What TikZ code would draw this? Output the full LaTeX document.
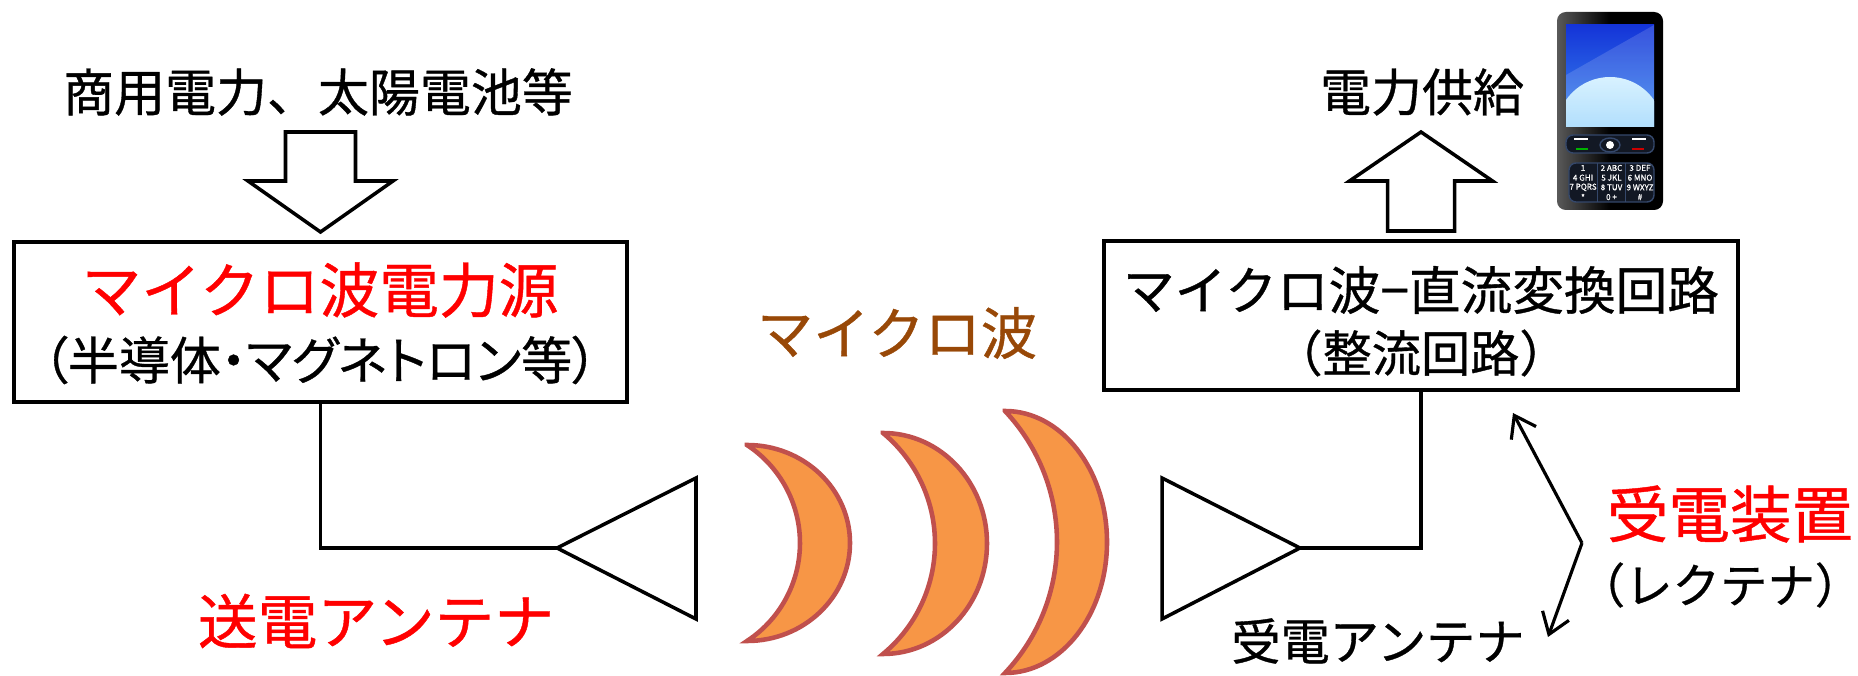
\documentclass[tikz,border=0pt]{standalone}
\usepackage{fontspec}
\setmainfont{Noto Sans CJK JP}[FakeBold=0.7]
\newfontfamily\jpp[RawFeature=+palt,FakeBold=0.7]{Noto Sans CJK JP}
\usetikzlibrary{arrows.meta}

\definecolor{wavefill}{HTML}{F79646}
\definecolor{waveedge}{HTML}{C0504D}
\definecolor{wavetext}{HTML}{984807}
\definecolor{scrtop}{HTML}{1434D8}
\definecolor{scrbot}{HTML}{3C8CF0}
\definecolor{domtop}{HTML}{D2F0FF}
\definecolor{dombot}{HTML}{70C0FA}
\definecolor{padedge}{HTML}{34476A}
\definecolor{padfill}{HTML}{121824}

\begin{document}
\begin{tikzpicture}[
  blk/.style={draw, line width=1pt},
  wire/.style={line width=1pt},
  fatarrow/.style={draw, fill=white, line width=1pt},
  wave/.style={draw=waveedge, fill=wavefill, line width=1.3pt},
  ptr/.style={line width=0.9pt, -{Straight Barb[length=2mm,width=2.8mm]}},
  key/.style={text=white, inner sep=0pt, font=\fontsize{2.3}{2.6}\selectfont}
]
%\draw [help lines] (0,0) grid (18,6);
\useasboundingbox (0,0) rectangle (18.58,6.75);

% istochnik
\node [blk, minimum width=6.13cm, minimum height=1.60cm] (src) at (3.205,3.53) {};
\node [red, font=\fontsize{17}{20}\selectfont] (srcname) at (3.20,3.85) {マイクロ波電力源};
\node [font=\jpp\fontsize{14.5}{17}\selectfont] (srcnote) at (3.20,3.15) {（半導体・マグネトロン等）};

\node [font=\fontsize{14.5}{17}\selectfont] (input) at (3.18,5.83) {商用電力、太陽電池等};
\draw [fatarrow] (2.855,5.43) -- (3.555,5.43) -- (3.555,4.94) -- (3.93,4.94)
  -- (3.205,4.43) -- (2.48,4.94) -- (2.855,4.94) -- cycle;

% peredayushchaya antenna
\coordinate (txtip) at (5.57,1.27);
\draw [wire] (src.south) |- (txtip);
\draw [wire] (txtip) -- (6.96,1.97) -- (6.96,0.56) -- cycle;
\node [red, font=\fontsize{17}{20}\selectfont] (txname) at (3.76,0.54) {送電アンテナ};

% volny
\draw [wave] (7.47,2.30) arc [start angle=90, end angle=-90, x radius=1.03, y radius=0.98]
  arc [start angle=-56.8, end angle=56.8, radius=1.171] -- cycle;
\draw [wave] (8.83,2.42) arc [start angle=90, end angle=-90, x radius=1.04, y radius=1.105]
  arc [start angle=-50.4, end angle=50.4, radius=1.434] -- cycle;
\draw [wave] (10.05,2.64) arc [start angle=90, end angle=-90, x radius=1.02, y radius=1.31]
  arc [start angle=-43.3, end angle=43.3, radius=1.910] -- cycle;
\node [text=wavetext, font=\fontsize{16}{19}\selectfont] (wavename) at (8.97,3.42) {マイクロ波};

% priemnaya antenna
\coordinate (rxtip) at (13.00,1.27);
\draw [wire] (rxtip) -- (11.62,1.97) -- (11.62,0.56) -- cycle;
\node [font=\fontsize{14}{16}\selectfont] (rxname) at (13.78,0.34) {受電アンテナ};

\node [blk, minimum width=6.34cm, minimum height=1.49cm] (rect) at (14.21,3.595) {};
\draw [wire] (rxtip) -| (rect.south);
\node [font=\fontsize{14.7}{17}\selectfont] (rectname) at (14.21,3.85) {マイクロ波−直流変換回路};
\node [font=\fontsize{14}{16}\selectfont] (rectnote) at (14.21,3.22) {（整流回路）};

\draw [fatarrow] (13.875,4.44) -- (14.545,4.44) -- (14.545,4.94) -- (14.925,4.94)
  -- (14.21,5.43) -- (13.495,4.94) -- (13.875,4.94) -- cycle;
\node [font=\fontsize{14.5}{17}\selectfont] (out) at (14.22,5.83) {電力供給};

% rektenna
\coordinate (brk) at (15.82,1.32);
\coordinate (up) at (15.13,2.62);
\coordinate (dn) at (15.48,0.38);
\draw [ptr] (brk) -- (up);
\draw [ptr] (brk) -- (dn);
\node [red, font=\fontsize{17.5}{20}\selectfont] (rectenna) at (17.30,1.61) {受電装置};
\node [font=\fontsize{13.5}{16}\selectfont] (rectennanote) at (17.20,0.90) {（レクテナ）};

% telefon
\shade [left color=gray!70!black, right color=black, middle color=black, rounded corners=2.5pt]
  (15.57,4.65) rectangle (16.63,6.63);
\shade [top color=scrtop, bottom color=scrbot] (15.66,5.48) rectangle (16.54,6.50);
\begin{scope}
  \clip (15.66,5.48) rectangle (16.54,6.50);
  \shade [top color=domtop, bottom color=dombot] (16.10,5.444) circle (0.536);
  \fill [white, opacity=0.15] (15.66,5.48) -- (15.66,6.0) -- (16.54,6.50) -- (16.54,5.48) -- cycle;
\end{scope}
\draw [padedge, fill=padfill, rounded corners=2pt, line width=0.4pt] (15.66,5.22) rectangle (16.54,5.40);
\draw [padedge, fill=padfill, line width=0.4pt] (16.10,5.30) ellipse (0.10 and 0.07);
\fill [white] (16.10,5.30) circle (0.04);
\draw [white, line width=0.6pt] (15.74,5.36) -- (15.88,5.36);
\draw [white, line width=0.6pt] (16.32,5.36) -- (16.46,5.36);
\draw [green!70!black, line width=0.8pt] (15.76,5.26) -- (15.88,5.26);
\draw [red!80!black, line width=0.8pt] (16.32,5.26) -- (16.44,5.26);
\draw [padedge, fill=padfill, rounded corners=2pt, line width=0.4pt] (15.69,4.73) rectangle (16.54,5.12);
\draw [padedge, line width=0.3pt] (15.975,4.73) -- (15.975,5.12);
\draw [padedge, line width=0.3pt] (16.255,4.73) -- (16.255,5.12);
\foreach \lab [count=\i from 0] in {1,2 ABC,3 DEF,4 GHI,5 JKL,6 MNO,7 PQRS,8 TUV,9 WXYZ,*,0 +,\#}
  {
  \pgfmathsetmacro{\kx}{15.83+0.285*mod(\i,3)}
  \pgfmathsetmacro{\ky}{5.07-0.097*floor(\i/3)}
  \node [key] (key-\i) at (\kx,\ky) {\lab};
  }
\end{tikzpicture}
\end{document}
